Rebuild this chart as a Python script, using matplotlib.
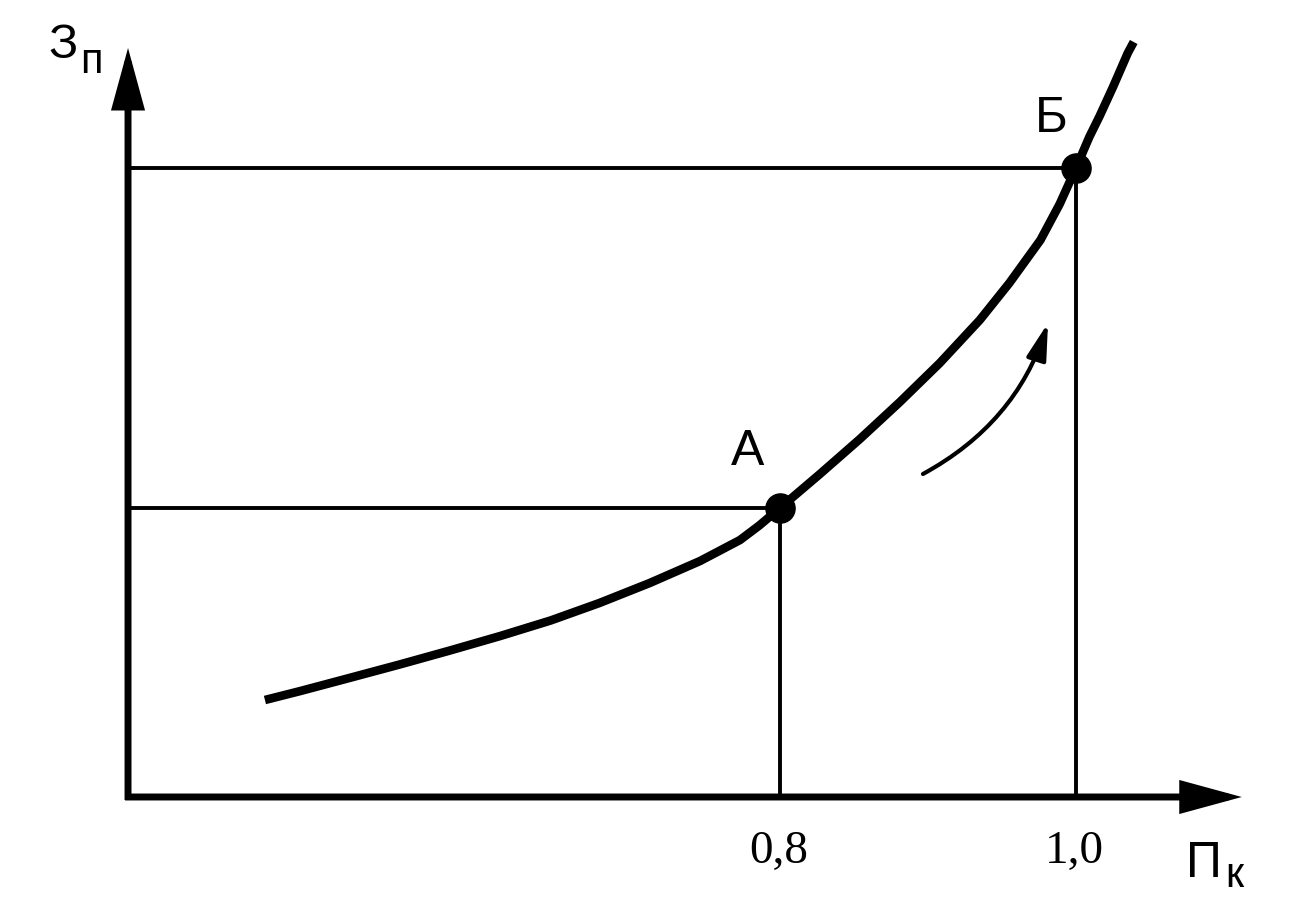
import matplotlib
matplotlib.use("Agg")
import matplotlib.pyplot as plt

# ---- data ----
curve_x = [0.452, 0.476, 0.509, 0.543, 0.577, 0.611, 0.645, 0.678, 0.712, 0.746,
           0.773, 0.786, 0.800, 0.827, 0.854, 0.881, 0.908, 0.935, 0.955, 0.976,
           0.989, 1.000, 1.009, 1.016, 1.025, 1.035, 1.039]
curve_y = [0.97, 1.06, 1.19, 1.325, 1.465, 1.61, 1.765, 1.94, 2.14, 2.36,
           2.57, 2.715, 2.89, 3.23, 3.58, 3.95, 4.34, 4.77, 5.14, 5.57,
           5.93, 6.29, 6.60, 6.81, 7.10, 7.44, 7.55]

point_names = ["А", "Б"]
point_x = [0.8, 1.0]
point_y = [2.89, 6.29]
tick_labels = ["0,8", "1,0"]

axis_origin = (0.3595, 0.0)
x_axis_end = 1.112
y_axis_end = 7.49

trend_start = (0.8966, 3.23)
trend_end = (0.9811, 4.74)

# ---- figure ----
fig = plt.figure(figsize=(13.02, 9.10), dpi=100)
ax = fig.add_axes([0, 0, 1, 1])
ax.set_xlim(0.2730, 1.1527)
ax.set_ylim(-1.13, 7.97)
ax.axis("off")

sans = ["Liberation Sans", "DejaVu Sans"]
serif = ["Liberation Serif", "DejaVu Serif"]

x0, y0 = axis_origin
axis_arrow = dict(arrowstyle="-|>,head_length=3.3,head_width=0.9", mutation_scale=10,
                  lw=5, color="black", shrinkA=0, shrinkB=0, joinstyle="miter",
                  capstyle="butt")
ax.annotate("", xy=(x_axis_end, y0), xytext=(x0 - 0.002, y0), arrowprops=axis_arrow)
ax.annotate("", xy=(x0, y_axis_end), xytext=(x0, y0 - 0.03), arrowprops=axis_arrow)

# guide lines
for px, py in zip(point_x, point_y):
    ax.plot([x0, px], [py, py], color="black", lw=2.8, solid_capstyle="butt")
    ax.plot([px, px], [y0, py], color="black", lw=2.8, solid_capstyle="butt")

# main curve
ax.plot(curve_x, curve_y, color="black", lw=6.2, solid_capstyle="butt",
        solid_joinstyle="round")

# points
ax.plot(point_x, point_y, "o", color="black", markersize=21)

# point labels
label_offsets = [(-0.0216, 0.43), (-0.0169, 0.36)]
for name, px, py, (dx, dy) in zip(point_names, point_x, point_y, label_offsets):
    ax.text(px + dx, py + dy, name, fontsize=36, family=sans,
            ha="center", va="baseline")

# tick labels
for lab, px in zip(tick_labels, point_x):
    ax.text(px - 0.001, -0.66, lab, fontsize=34, family=serif,
            ha="center", va="baseline")

# axis titles
ax.text(0.3155, 7.39, "З", fontsize=35, family=sans, ha="center", va="baseline")
ax.text(0.3345, 7.24, "п", fontsize=30, family=sans, ha="center", va="baseline")
ax.text(1.0865, -0.80, "П", fontsize=36, family=sans, ha="center", va="baseline")
ax.text(1.1068, -0.90, "к", fontsize=30, family=sans, ha="center", va="baseline")

# small curved arrow
ax.annotate("", xy=trend_end, xytext=trend_start,
            arrowprops=dict(arrowstyle="-|>,head_length=2.2,head_width=0.6",
                            mutation_scale=10, lw=3, color="black",
                            shrinkA=0, shrinkB=0,
                            connectionstyle="arc3,rad=0.2"))

fig.savefig("out.png", dpi=100, facecolor="white")
